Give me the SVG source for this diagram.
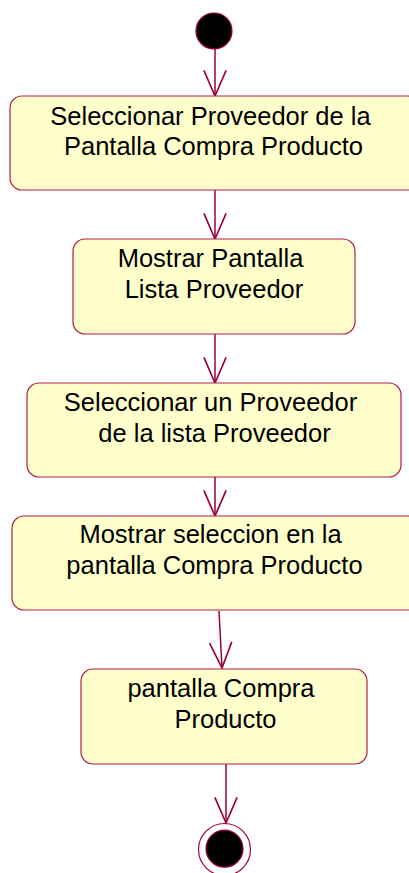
<svg xmlns="http://www.w3.org/2000/svg" width="409" height="873" viewBox="0 0 409 873">
<style>
.act{fill:#FFFFCC;stroke:#B0204A;stroke-width:1.2}
.t{font-family:"Liberation Sans",Arial,sans-serif;font-size:25.5px;fill:#000;text-anchor:middle}
.c{stroke:#99003D;stroke-width:1.5;fill:none}
</style>
<defs>
<marker id="arr" markerUnits="userSpaceOnUse" markerWidth="30" markerHeight="30" viewBox="-25 -12 27 24" refX="0" refY="0" orient="auto" overflow="visible">
<path d="M-23,-10 L0,0 L-23,10" fill="none" stroke="#99003D" stroke-width="1.5"/>
</marker>
</defs>
<g id="connectors">
<line class="c" x1="215" y1="49" x2="215" y2="96" marker-end="url(#arr)"/>
<line class="c" x1="215" y1="190" x2="215" y2="239" marker-end="url(#arr)"/>
<line class="c" x1="215" y1="334" x2="215" y2="383" marker-end="url(#arr)"/>
<line class="c" x1="215" y1="477" x2="215" y2="516" marker-end="url(#arr)"/>
<line class="c" x1="219" y1="611" x2="222" y2="668" marker-end="url(#arr)"/>
<line class="c" x1="226" y1="764" x2="226" y2="823" marker-end="url(#arr)"/>
</g>
<g id="start">
<circle cx="214" cy="31" r="18" fill="#000" stroke="#99003D" stroke-width="1.2"/>
</g>
<g id="n1">
<rect class="act" x="10" y="96" width="410" height="94" rx="12"/>
<text class="t" x="210.5" y="125">Seleccionar Proveedor de la</text>
<text class="t" x="213.5" y="155">Pantalla Compra Producto</text>
</g>
<g id="n2">
<rect class="act" x="73" y="239" width="282" height="95" rx="12"/>
<text class="t" x="210.5" y="267">Mostrar Pantalla</text>
<text class="t" x="214" y="298">Lista Proveedor</text>
</g>
<g id="n3">
<rect class="act" x="27" y="383" width="374" height="94" rx="12"/>
<text class="t" x="210.5" y="411">Seleccionar un Proveedor</text>
<text class="t" x="214.5" y="442">de la lista Proveedor</text>
</g>
<g id="n4">
<rect class="act" x="12" y="516" width="408" height="94" rx="12"/>
<text class="t" x="210.5" y="543">Mostrar seleccion en la</text>
<text class="t" x="214.5" y="574">pantalla Compra Producto</text>
</g>
<g id="n5">
<rect class="act" x="81" y="669" width="286" height="95" rx="12"/>
<text class="t" x="221" y="697">pantalla Compra</text>
<text class="t" x="225.5" y="728">Producto</text>
</g>
<g id="end">
<circle cx="224.5" cy="849.5" r="26" fill="none" stroke="#99003D" stroke-width="1.2"/>
<circle cx="224.5" cy="848.7" r="18.5" fill="#000" stroke="#99003D" stroke-width="1.2"/>
</g>
</svg>
